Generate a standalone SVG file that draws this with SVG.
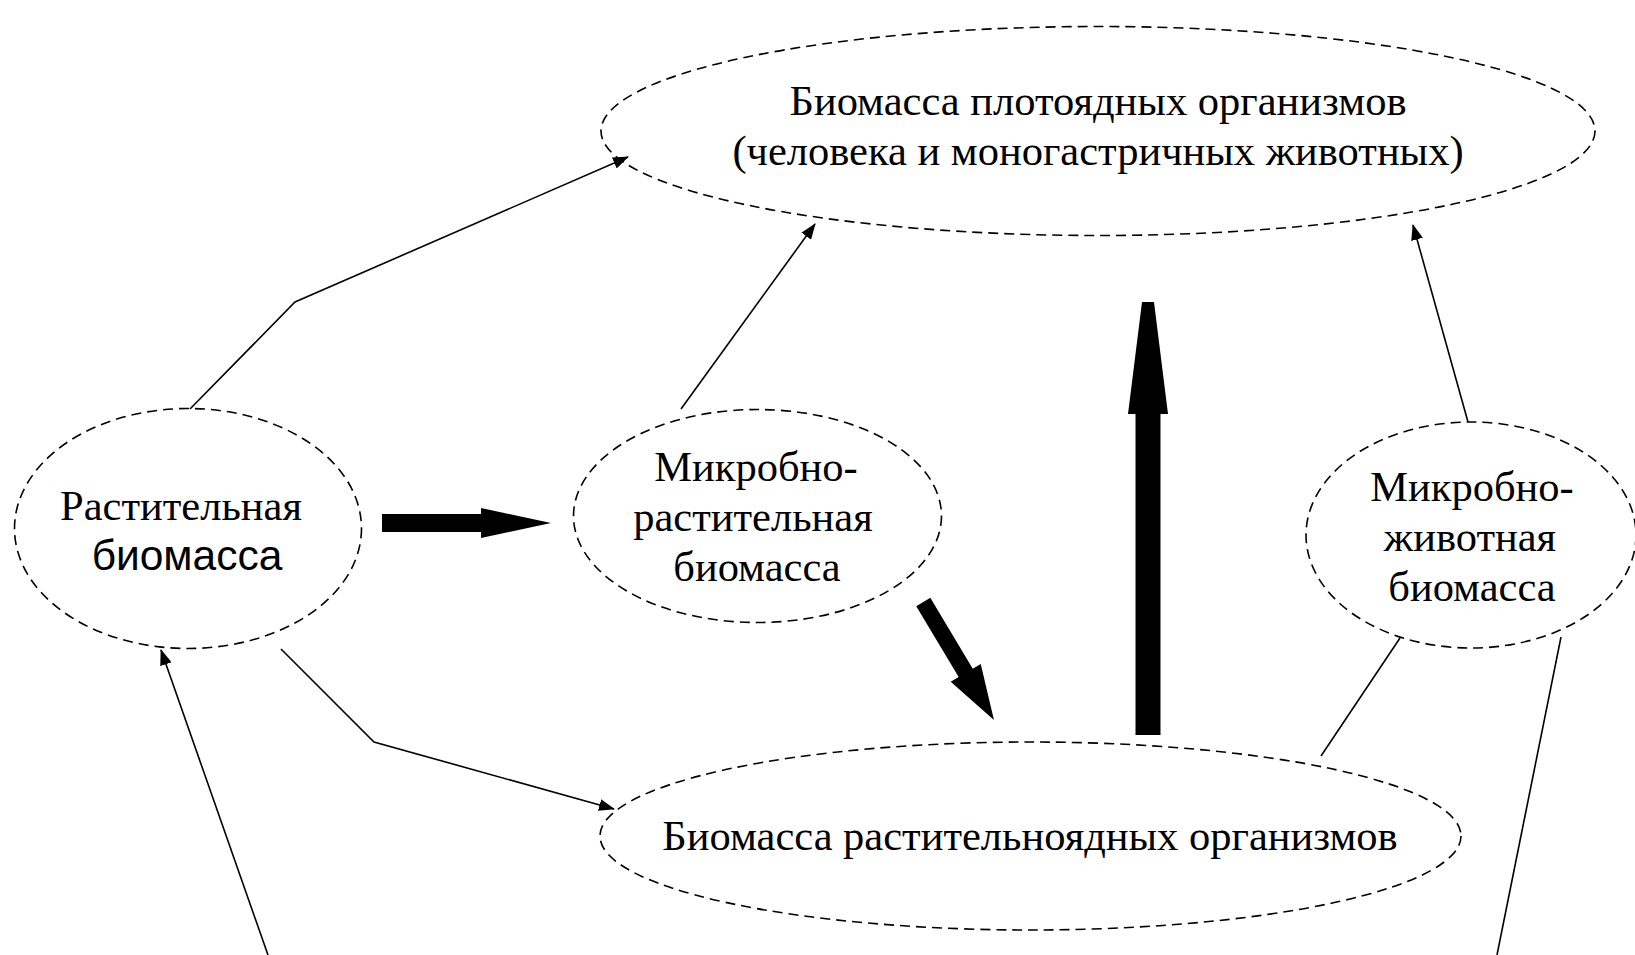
<svg xmlns="http://www.w3.org/2000/svg" width="1635" height="955" viewBox="0 0 1635 955">
<style>
.node ellipse{fill:none;stroke:#000;stroke-width:1.6;stroke-dasharray:10 6}
.t{font-family:"Liberation Serif","Times New Roman",serif;font-size:42.5px;fill:#000;text-anchor:middle}
.s{font-family:"Liberation Sans",Arial,sans-serif;font-size:42.5px;fill:#000;text-anchor:middle}
.ln{fill:none;stroke:#000;stroke-width:1.6}
.thick{fill:#000;stroke:none}
</style>
<defs>
<marker id="ah" viewBox="0 0 16 12" refX="15" refY="6" markerWidth="16" markerHeight="12" markerUnits="userSpaceOnUse" orient="auto">
<path d="M0,0 L16,6 L0,12 Z" fill="#000"/>
</marker>
</defs>
<rect width="1635" height="955" fill="#fff"/>
<g id="carnivores" class="node">
<ellipse cx="1098" cy="131" rx="497" ry="104.5"/>
<text class="t" x="1098" y="115">Биомасса плотоядных организмов</text>
<text class="t" x="1098" y="165">(человека и моногастричных животных)</text>
</g>
<g id="plant" class="node">
<ellipse cx="188" cy="528.5" rx="173.5" ry="120"/>
<text class="t" x="181" y="520">Растительная</text>
<text class="s" x="187" y="570">биомасса</text>
</g>
<g id="microplant" class="node">
<ellipse cx="757.5" cy="516" rx="184" ry="106.5"/>
<text class="t" x="756" y="481">Микробно-</text>
<text class="t" x="753" y="531">растительная</text>
<text class="t" x="757" y="581">биомасса</text>
</g>
<g id="microanimal" class="node">
<ellipse cx="1471" cy="535" rx="165" ry="113"/>
<text class="t" x="1472" y="501">Микробно-</text>
<text class="t" x="1470" y="551">животная</text>
<text class="t" x="1472" y="601">биомасса</text>
</g>
<g id="herbivores" class="node">
<ellipse cx="1030.5" cy="836" rx="430.5" ry="94"/>
<text class="t" x="1030" y="850">Биомасса растительноядных организмов</text>
</g>
<g id="connectors">
<polyline class="ln" points="190,409 295,302 628,157" marker-end="url(#ah)"/>
<line class="ln" x1="681" y1="409" x2="815" y2="224" marker-end="url(#ah)"/>
<line class="ln" x1="1468" y1="422" x2="1413" y2="225" marker-end="url(#ah)"/>
<line class="ln" x1="1321" y1="756" x2="1400" y2="638"/>
<line class="ln" x1="1561" y1="637" x2="1497" y2="955"/>
<line class="ln" x1="268" y1="955" x2="161" y2="650" marker-end="url(#ah)"/>
<polyline class="ln" points="281,649 374,742 614,809" marker-end="url(#ah)"/>
<polygon class="thick" points="382,514 481,514 481,508 551,523 481,538 481,532 382,532"/>
<polygon class="thick" points="1135.5,735 1135.5,414 1128,414 1142,302 1154,302 1168,414 1160.5,414 1160.5,735"/>
<polygon class="thick" transform="translate(923.3,602) rotate(59.1)" points="0,-8.2 82.6,-8.2 82.6,-17.5 137.6,0 82.6,17.5 82.6,8.2 0,8.2"/>
</g>
</svg>
